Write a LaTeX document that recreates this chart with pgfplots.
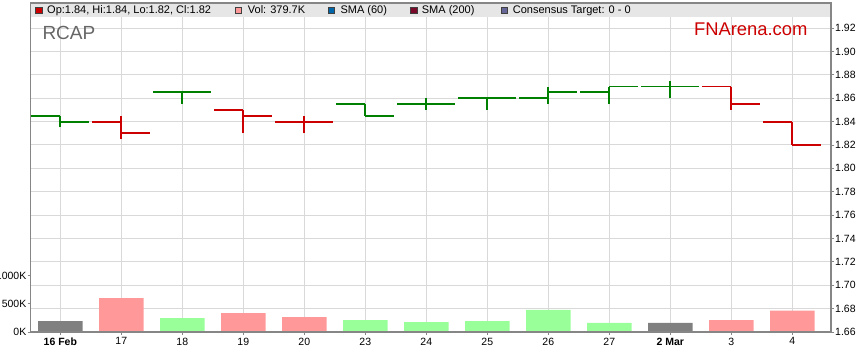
\documentclass[border=0pt]{standalone}
\usepackage{pgfplots}
\usepackage{pgfplotstable}
\pgfplotsset{compat=1.18}
\usepackage{fontspec}
\setmainfont{Liberation Sans}
\definecolor{upg}{HTML}{008000}
\definecolor{dnr}{HTML}{CC0000}
\definecolor{volr}{HTML}{FF9999}
\definecolor{volg}{HTML}{99FF99}
\definecolor{volk}{HTML}{808080}
\definecolor{gridc}{HTML}{D9D9D9}
\definecolor{framec}{HTML}{868686}
\definecolor{bandc}{HTML}{E6E6E6}
\definecolor{smab}{HTML}{0066AA}
\definecolor{smam}{HTML}{7A0A2A}
\definecolor{cons}{HTML}{666699}

\pgfplotstableread{
x o h l c
0 1.845 1.845 1.835 1.84
2 1.865 1.865 1.855 1.865
5 1.855 1.855 1.845 1.845
6 1.855 1.86 1.85 1.855
7 1.86 1.86 1.85 1.86
8 1.86 1.87 1.855 1.865
9 1.865 1.87 1.855 1.87
10 1.87 1.875 1.86 1.87
}\upbars
\pgfplotstableread{
x o h l c
1 1.84 1.845 1.825 1.83
3 1.85 1.85 1.83 1.845
4 1.84 1.845 1.83 1.84
11 1.87 1.87 1.85 1.855
12 1.84 1.84 1.82 1.82
}\dnbars
\pgfplotstableread{
x v
2 248
5 213
6 177
7 195
8 395
9 160
}\volup
\pgfplotstableread{
x v
1 603
3 337
4 266
11 213
12 380
}\voldn
\pgfplotstableread{
x v
0 195
10 160
}\volnc

\pgfplotsset{
  base/.style={scale only axis, width=800.5pt, height=329pt,
    at={(30.5pt,31pt)}, anchor=south west, xmin=-0.4885, xmax=12.634,
    /pgf/number format/assume math mode=true,
    tick label style={font=\fontsize{10.5}{12}\selectfont, text=black},
    tick align=outside, major tick length=3pt,
    tick style={framec, line width=0.8pt}},
  ohlc/.style={draw=#1, line width=1.9pt, mark=none, forget plot,
    quiver/every arrow/.append style={line width=1.9pt}}
}

\begin{document}
\begin{tikzpicture}
% price axis: grid, frame, ticks
\begin{axis}[base, ymin=1.66, ymax=1.94144,
  grid=major, grid style={gridc, line width=1pt},
  axis line style={framec, line width=1.2pt},
  xtick={0,1,2,3,4,5,6,7,8,9,10,11,12},
  xticklabels={\textbf{16 Feb},17,18,19,20,23,24,25,26,27,\textbf{2 Mar},3,4},
  xtick pos=bottom,
  ytick={1.66,1.68,1.70,1.72,1.74,1.76,1.78,1.80,1.82,1.84,1.86,1.88,1.90,1.92},
  ytick pos=right, yticklabel pos=right,
  yticklabel style={/pgf/number format/fixed, /pgf/number format/fixed zerofill,
    /pgf/number format/precision=2, inner sep=1pt},
  xticklabel style={inner sep=1pt, yshift=-1.5pt},
]
\addplot[draw=none, forget plot] coordinates {(0,1.70)};
\end{axis}
% volume axis
\begin{axis}[base, ymin=0, ymax=5844,
  axis line style={draw=none}, xtick=\empty,
  ytick={0,500,1000}, yticklabels={0K,500K,1000K}, ytick pos=left,
  yticklabel style={inner sep=1pt},
  ybar, bar width=44.5pt, bar shift=0pt]
\addplot[fill=volg, draw=none] table[x=x,y=v]{\volup};
\addplot[fill=volr, draw=none] table[x=x,y=v]{\voldn};
\addplot[fill=volk, draw=none] table[x=x,y=v]{\volnc};
\end{axis}
% OHLC bars (quiver segments: high-low, open tick left, close tick right)
\begin{axis}[base, ymin=1.66, ymax=1.94144, hide axis]
\addplot[ohlc=upg, quiver={u=0, v=\thisrow{h}-\thisrow{l}}] table[x=x, y=l]{\upbars};
\addplot[ohlc=upg, quiver={u=-0.475, v=0}] table[x=x, y=o]{\upbars};
\addplot[ohlc=upg, quiver={u=0.475, v=0}] table[x=x, y=c]{\upbars};
\addplot[ohlc=dnr, quiver={u=0, v=\thisrow{h}-\thisrow{l}}] table[x=x, y=l]{\dnbars};
\addplot[ohlc=dnr, quiver={u=-0.475, v=0}] table[x=x, y=o]{\dnbars};
\addplot[ohlc=dnr, quiver={u=0.475, v=0}] table[x=x, y=c]{\dnbars};
\end{axis}
% header band and frame
\fill[bandc] (30.5pt,346pt) rectangle (831pt,360pt);
\draw[framec, line width=1.2pt] (30.5pt,31pt) rectangle (831pt,360pt);
\begin{scope}[every node/.style={anchor=base west, inner sep=0pt, font=\fontsize{11}{13}\selectfont}]
\filldraw[fill=dnr, draw=black!75, line width=0.6pt] (35.7pt,349.5pt) rectangle +(6.3pt,6.3pt);
\node at (47pt,349.6pt) {Op:1.84, Hi:1.84, Lo:1.82, Cl:1.82};
\filldraw[fill=volr, draw=black!75, line width=0.6pt] (235pt,349.5pt) rectangle +(6.3pt,6.3pt);
\node at (247.7pt,349.6pt) {Vol: 379.7K};
\filldraw[fill=smab, draw=black!75, line width=0.6pt] (328.3pt,349.5pt) rectangle +(6.3pt,6.3pt);
\node at (340.3pt,349.6pt) {SMA (60)};
\filldraw[fill=smam, draw=black!75, line width=0.6pt] (410.7pt,349.5pt) rectangle +(6.3pt,6.3pt);
\node at (421.7pt,349.6pt) {SMA (200)};
\filldraw[fill=cons, draw=black!75, line width=0.6pt] (501.3pt,349.5pt) rectangle +(6.3pt,6.3pt);
\node at (512.7pt,349.6pt) {Consensus Target: 0 - 0};
\end{scope}
\node[anchor=base west, inner sep=0pt, font=\fontsize{19}{22}\selectfont, text=black!60] at (42.3pt,323.7pt) {RCAP};
\node[anchor=base east, inner sep=0pt, font=\fontsize{18.4}{22}\selectfont, text=dnr] at (807.7pt,327pt) {FNArena.com};
\pgfresetboundingbox
\useasboundingbox (0,0) rectangle (859pt,363pt);
\end{tikzpicture}
\end{document}
